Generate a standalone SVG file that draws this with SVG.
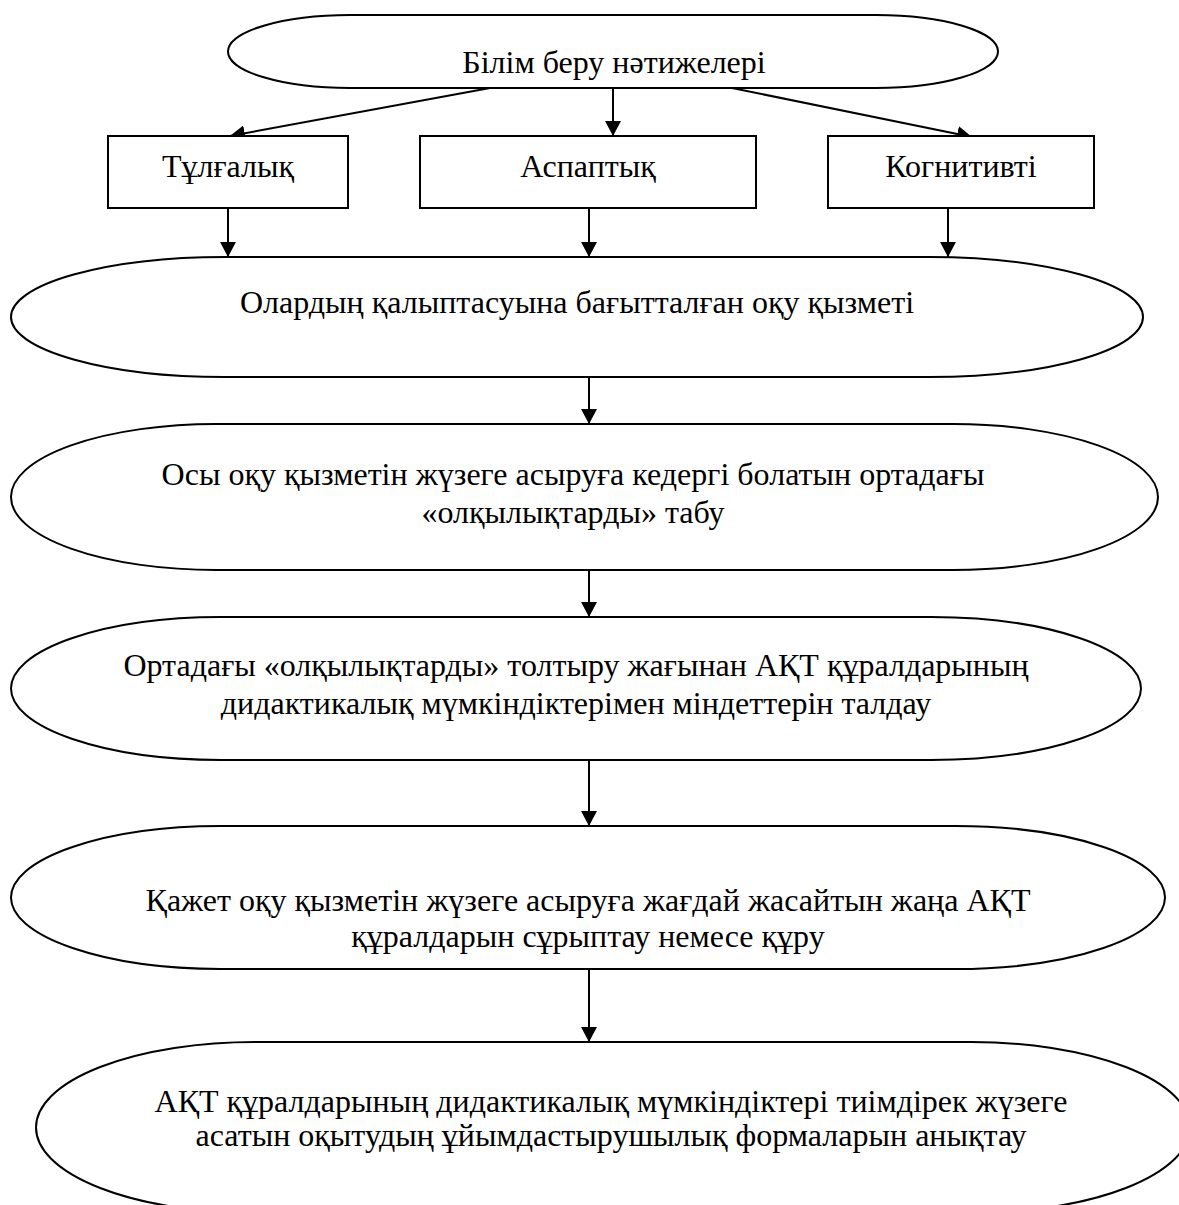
<svg xmlns="http://www.w3.org/2000/svg" width="1179" height="1205" viewBox="0 0 1179 1205">
<style>
.shape{fill:#fff;stroke:#000;stroke-width:2}
.t{font-family:"Liberation Serif","Times New Roman",serif;font-size:32px;fill:#000;text-anchor:middle}
.c{stroke:#000;stroke-width:2;fill:none;marker-end:url(#ah)}
</style>
<defs>
<marker id="ah" markerUnits="userSpaceOnUse" markerWidth="16" markerHeight="16" refX="15" refY="8" orient="auto" viewBox="0 0 16 16">
<path d="M0,0 L15,8 L0,16 z" fill="#000"/>
</marker>
</defs>
<rect width="1179" height="1205" fill="#fff"/>
<g id="connectors">
<line class="c" x1="490" y1="88" x2="230" y2="136"/>
<line class="c" x1="613" y1="88" x2="613" y2="136"/>
<line class="c" x1="732" y1="88" x2="972" y2="137"/>
<line class="c" x1="228" y1="208" x2="228" y2="257"/>
<line class="c" x1="589" y1="208" x2="589" y2="257"/>
<line class="c" x1="948" y1="208" x2="948" y2="257"/>
<line class="c" x1="589" y1="377" x2="589" y2="424"/>
<line class="c" x1="589" y1="570" x2="589" y2="617"/>
<line class="c" x1="589" y1="760" x2="589" y2="826"/>
<line class="c" x1="589" y1="969" x2="589" y2="1042"/>
</g>
<g id="n1">
<rect class="shape" x="228" y="15" width="770" height="73" rx="122" ry="36.5"/>
<text class="t" x="614" y="73">Білім беру нәтижелері</text>
</g>
<g id="n2">
<rect class="shape" x="108" y="136" width="240" height="72"/>
<text class="t" x="228" y="177">Тұлғалық</text>
</g>
<g id="n3">
<rect class="shape" x="420" y="136" width="336" height="72"/>
<text class="t" x="588" y="177">Аспаптық</text>
</g>
<g id="n4">
<rect class="shape" x="828" y="136" width="266" height="72"/>
<text class="t" x="961" y="177">Когнитивті</text>
</g>
<g id="n5">
<rect class="shape" x="11" y="257" width="1132" height="120" rx="214" ry="60"/>
<text class="t" x="577" y="313">Олардың қалыптасуына бағытталған оқу қызметі</text>
</g>
<g id="n6">
<rect class="shape" x="11" y="424" width="1147" height="146" rx="205" ry="73"/>
<text class="t" x="573" y="485">Осы оқу қызметін жүзеге асыруға кедергі болатын ортадағы</text>
<text class="t" x="573" y="523">«олқылықтарды» табу</text>
</g>
<g id="n7">
<rect class="shape" x="11" y="617" width="1130" height="143" rx="210" ry="71.5"/>
<text class="t" x="576" y="676">Ортадағы «олқылықтарды» толтыру жағынан АҚТ құралдарының</text>
<text class="t" x="576" y="714">дидактикалық мүмкіндіктерімен міндеттерін талдау</text>
</g>
<g id="n8">
<rect class="shape" x="11" y="826" width="1154" height="143" rx="210" ry="71.5"/>
<text class="t" x="588" y="911">Қажет оқу қызметін жүзеге асыруға жағдай жасайтын жаңа АҚТ</text>
<text class="t" x="588" y="947">құралдарын сұрыптау немесе құру</text>
</g>
<g id="n9">
<rect class="shape" x="36" y="1042" width="1154" height="171" rx="219" ry="85.5"/>
<text class="t" x="611" y="1112">АҚТ құралдарының дидактикалық мүмкіндіктері тиімдірек жүзеге</text>
<text class="t" x="611" y="1146">асатын оқытудың ұйымдастырушылық формаларын анықтау</text>
</g>
</svg>
